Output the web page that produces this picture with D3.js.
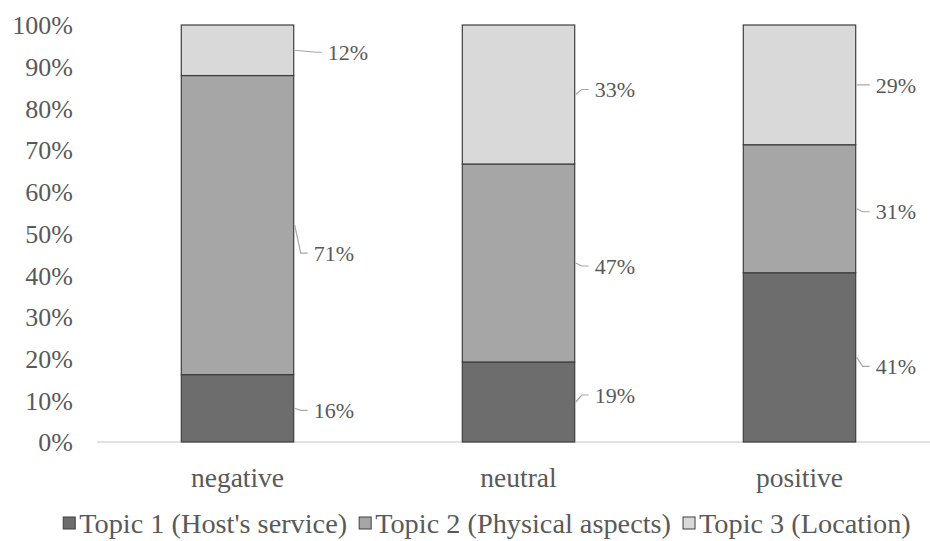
<!DOCTYPE html>
<html>
<head>
<meta charset="utf-8">
<script src="https://cdn.jsdelivr.net/npm/d3@7"></script>
<style>
  html, body { margin: 0; padding: 0; background: #fff; }
  svg { display: block; }
  text { font-family: "Liberation Serif", "Times New Roman", "DejaVu Serif", serif; fill: #595959; }
</style>
</head>
<body>
<svg id="chart" width="930" height="541"></svg>
<script>
// Share of each topic within each sentiment group (rounded percentages)
const categories = ["negative", "neutral", "positive"];
const topics = ["Topic 1 (Host's service)", "Topic 2 (Physical aspects)", "Topic 3 (Location)"];
const topic1 = [16, 19, 41];
const topic2 = [71, 47, 31];
const topic3 = [12, 33, 29];
const yTicks = [0, 10, 20, 30, 40, 50, 60, 70, 80, 90, 100];

// Callout vertical nudges (px) so labels sit beside their leader lines
const calloutNudge = [
  [2, -7, 9],     // topic 1
  [28, 3, 3],     // topic 2
  [2, -5, 0]      // topic 3
];

const fills = ["#6d6d6d", "#a6a6a6", "#d9d9d9"];
const edge = "#3f3f3f";

const svg = d3.select("#chart");
const W = 930, H = 541;
const plotLeft = 97, plotRight = 940, plotTop = 25, plotBottom = 442;

const rows = categories.map((c, i) => ({
  category: c,
  t0: topic1[i], t1: topic2[i], t2: topic3[i]
}));
const keys = ["t0", "t1", "t2"];
const series = d3.stack().keys(keys).offset(d3.stackOffsetExpand)(rows);

const x = d3.scaleBand().domain(categories).range([plotLeft, plotRight])
  .paddingInner(0.6).paddingOuter(0.3);
const y = d3.scaleLinear().domain([0, 1]).range([plotBottom, plotTop]);

// baseline
svg.append("line")
  .attr("x1", plotLeft).attr("x2", W)
  .attr("y1", y(0)).attr("y2", y(0))
  .attr("stroke", "#d9d9d9").attr("stroke-width", 1.5);

// y axis labels
const yAxis = d3.axisLeft(d3.scaleLinear().domain([0, 100]).range([plotBottom, plotTop]))
  .tickValues(yTicks).tickFormat(d => d + "%").tickSize(0).tickPadding(0);
const gy = svg.append("g").attr("transform", `translate(73,0)`).call(yAxis);
gy.attr("font-family", null);
gy.select(".domain").remove();
gy.selectAll("text")
  .style("font-size", "26px").attr("fill", "#595959").attr("dy", "0.34em");

// stacked bars
series.forEach((s, si) => {
  svg.append("g").selectAll("rect").data(s).join("rect")
    .attr("x", d => x(d.data.category))
    .attr("width", x.bandwidth())
    .attr("y", d => y(d[1]))
    .attr("height", d => y(d[0]) - y(d[1]))
    .attr("fill", fills[si])
    .attr("stroke", edge).attr("stroke-width", 1.2);
});

// callouts with leader lines
const rawValues = [topic1, topic2, topic3];
series.forEach((s, si) => {
  s.forEach((d, ci) => {
    const x0 = x(d.data.category) + x.bandwidth() + 1;
    const ay = y((d[0] + d[1]) / 2);
    const ly = ay + calloutNudge[si][ci];
    const isTop = si === 2 && ci === 0;
    const elbow = isTop ? x0 + 22 : x0 + 6;
    const end = isTop ? x0 + 27 : x0 + 13;
    svg.append("polyline")
      .attr("points", `${x0},${ay} ${elbow},${ly} ${end},${ly}`)
      .attr("fill", "none").attr("stroke", "#a6a6a6").attr("stroke-width", 1.2);
    svg.append("text")
      .attr("x", end + 6).attr("y", ly).attr("dy", "0.35em")
      .style("font-size", "22px")
      .text(rawValues[si][ci] + "%");
  });
});

// category labels
svg.append("g").selectAll("text").data(categories).join("text")
  .attr("x", d => x(d) + x.bandwidth() / 2)
  .attr("y", 477).attr("dy", "0.35em")
  .attr("text-anchor", "middle")
  .style("font-size", "27.5px")
  .text(d => d);

// legend
const legend = svg.append("g");
const box = 12, gap = 4, itemGap = 12;
let cx = 0;
topics.forEach((t, i) => {
  const g = legend.append("g").attr("transform", `translate(${cx},0)`);
  g.append("rect").attr("x", 0).attr("y", -6).attr("width", box).attr("height", box)
    .attr("fill", fills[i]).attr("stroke", edge).attr("stroke-width", 1);
  const tx = g.append("text").attr("x", box + gap).attr("y", 0).attr("dy", "0.35em")
    .style("font-size", "28.3px").text(t);
  cx += box + gap + tx.node().getComputedTextLength() + itemGap;
});
const total = cx - itemGap;
legend.attr("transform", `translate(${487 - total / 2},523)`);
</script>
</body>
</html>
